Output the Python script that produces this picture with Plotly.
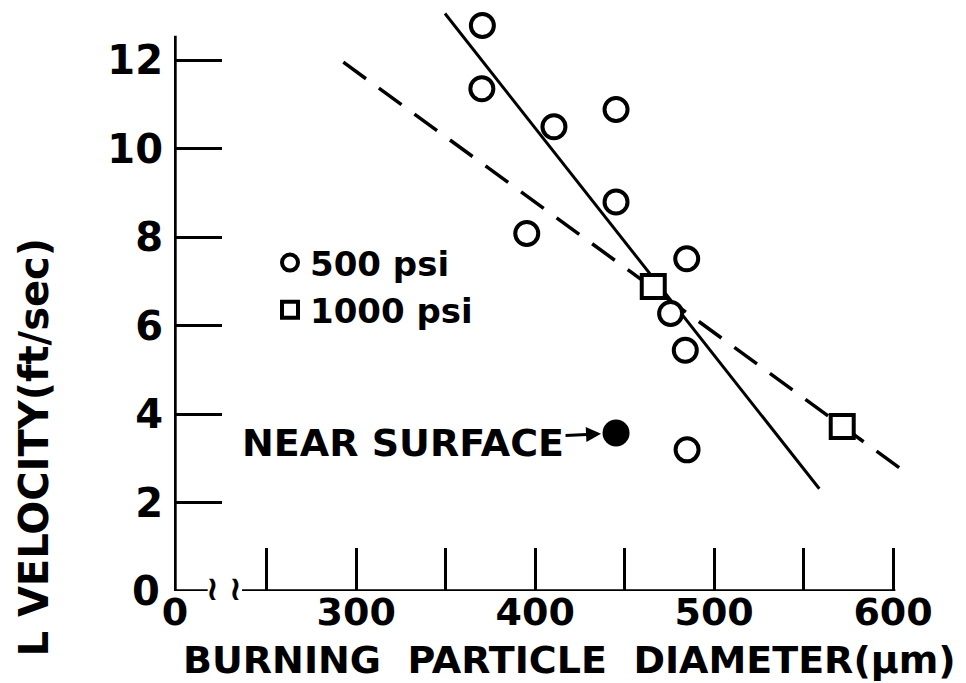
import plotly.graph_objects as go

# ---------------- data ----------------
d500 = [370.5, 370.2, 410.5, 445.2, 445.2, 395.3, 484.7, 475.7, 483.9, 484.9]
v500 = [12.78, 11.35, 10.49, 10.88, 8.79, 8.08, 7.51, 6.27, 5.44, 3.19]
d1000 = [466.0, 571.6]
v1000 = [6.88, 3.72]
d_near = [445.2]
v_near = [3.57]
fit500_d = [349.6, 558.8]
fit500_v = [13.05, 2.31]
fit1000_d = [292.8, 606.7]
fit1000_v = [11.95, 2.69]

x_zero = 198.7          # position of the broken-axis "0"
x_ticks = [x_zero, 250, 300, 350, 400, 450, 500, 550, 600]
x_ticktext = ["0", "", "300", "", "400", "", "500", "", "600"]
y_ticks = [2, 4, 6, 8, 10, 12]
y_ticktext = ["2", "4", "6", "8", "10", "12"]

FONT = "DejaVu Sans"
BLACK = "black"

# page layout (the page body has an 8px offset)
OFF = 8
L_MARGIN = 174 - OFF
B_MARGIN = 683 - (591 - OFF)
PLOT_W = 966 - L_MARGIN
PLOT_H = 683 - B_MARGIN
PX_PER_UM = 1.7894
PX_PER_V = 44.25
x_lo = (174 + 180.6) / PX_PER_UM
x_hi = x_lo + PLOT_W / PX_PER_UM
y_hi = PLOT_H / PX_PER_V


def px_x(page_px):
    return (page_px - 174) / PLOT_W


def px_y(page_py):
    return (591 - page_py) / PLOT_H


fig = go.Figure()

# fitted lines
fig.add_trace(go.Scatter(x=fit500_d, y=fit500_v, mode="lines",
                         line=dict(color=BLACK, width=3), showlegend=False, hoverinfo="skip"))
fig.add_trace(go.Scatter(x=fit1000_d, y=fit1000_v, mode="lines",
                         line=dict(color=BLACK, width=3.5, dash="28px,16px"),
                         showlegend=False, hoverinfo="skip"))
# data points
fig.add_trace(go.Scatter(x=d500, y=v500, mode="markers", name="500 psi",
                         marker=dict(symbol="circle", size=23, color="white",
                                     line=dict(color=BLACK, width=4))))
fig.add_trace(go.Scatter(x=d1000, y=v1000, mode="markers", name="1000 psi",
                         marker=dict(symbol="square", size=23, color="white",
                                     line=dict(color=BLACK, width=4))))
fig.add_trace(go.Scatter(x=d_near, y=v_near, mode="markers", showlegend=False,
                         marker=dict(symbol="circle", size=27, color=BLACK,
                                     line=dict(color=BLACK, width=0))))

shapes = [
    # y axis line
    dict(type="line", xref="x", yref="y", x0=x_zero, x1=x_zero, y0=-0.2, y1=12.55,
         line=dict(color=BLACK, width=3.5)),
    # broken x axis line
    dict(type="line", xref="x", yref="y", x0=x_zero, x1=217.0, y0=0, y1=0,
         line=dict(color=BLACK, width=3.5)),
    dict(type="line", xref="x", yref="y", x0=236.2, x1=601.3, y0=0, y1=0,
         line=dict(color=BLACK, width=3.5)),
]

annotations = [
    dict(text="≀", x=219.6, y=0, xref="x", yref="y", showarrow=False,
         font=dict(family=FONT, size=34, color=BLACK), yshift=3),
    dict(text="≀", x=232.6, y=0, xref="x", yref="y", showarrow=False,
         font=dict(family=FONT, size=34, color=BLACK), yshift=3),
    dict(text="0", x=px_x(162), y=0, xref="paper", yref="y", xanchor="right",
         showarrow=False, font=dict(family=FONT, size=40, color=BLACK, weight="bold")),
    dict(text="NEAR SURFACE", x=d_near[0], y=v_near[0], xref="x", yref="y",
         showarrow=True, ax=-213, ay=10, arrowhead=2, arrowsize=1, arrowwidth=3,
         arrowcolor=BLACK, standoff=15,
         font=dict(family=FONT, size=38, color=BLACK, weight="bold")),
    dict(text="BURNING\u00a0 PARTICLE\u00a0 DIAMETER(µm)", xref="paper", yref="paper",
         x=px_x(569), y=px_y(660), xanchor="center", yanchor="middle", showarrow=False,
         font=dict(family=FONT, size=38, color=BLACK, weight="bold")),
    dict(text="L VELOCITY(ft/sec)", textangle=-90, xref="paper", yref="paper",
         x=px_x(33), y=px_y(236),
         xanchor="center", yanchor="top", showarrow=False,
         font=dict(family=FONT, size=40, color=BLACK, weight="bold")),
]

fig.update_layout(
    width=966, height=683, autosize=False,
    paper_bgcolor="white", plot_bgcolor="white",
    margin=dict(l=L_MARGIN, r=0, t=0, b=B_MARGIN, pad=0),
    font=dict(family=FONT, color=BLACK, weight="bold"),
    shapes=shapes, annotations=annotations,
    legend=dict(x=px_x(270), y=px_y(234),
                xanchor="left", yanchor="top", bgcolor="rgba(0,0,0,0)",
                font=dict(family=FONT, size=34, color=BLACK, weight="bold"),
                tracegroupgap=0),
    xaxis=dict(range=[x_lo, x_hi], showgrid=False, zeroline=False, showline=False,
               tickmode="array", tickvals=x_ticks, ticktext=x_ticktext,
               ticks="inside", ticklen=43, tickwidth=3, tickcolor=BLACK,
               ticklabelstandoff=-5,
               tickfont=dict(family=FONT, size=38, color=BLACK, weight="bold")),
    yaxis=dict(range=[0, y_hi], showgrid=False, zeroline=False, showline=False,
               tickmode="array", tickvals=y_ticks, ticktext=y_ticktext,
               ticks="inside", ticklen=48, tickwidth=3, tickcolor=BLACK,
               ticklabelstandoff=10,
               tickfont=dict(family=FONT, size=40, color=BLACK, weight="bold")),
)

fig.write_html("out.html", config={"displayModeBar": False})
